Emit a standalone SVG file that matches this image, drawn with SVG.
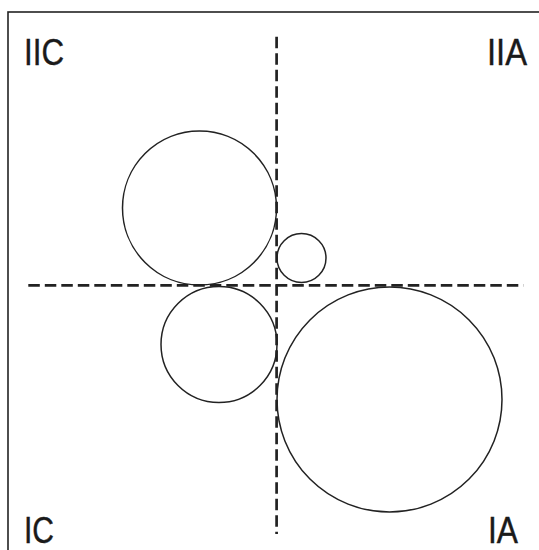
<svg xmlns="http://www.w3.org/2000/svg" width="539" height="550" viewBox="0 0 539 550">
<style>
.frame{fill:none;stroke:#222;stroke-width:1.6}
.c{fill:none;stroke:#222;stroke-width:1.5}
.d{stroke:#222;stroke-width:2.7;stroke-dasharray:11.5 5;fill:none}
.t{font-family:"Liberation Sans",Arial,sans-serif;font-size:36px;fill:#1a1a1a;stroke:#1a1a1a;stroke-width:0.4}
</style>
<rect class="frame" x="8" y="12" width="540" height="550"/>
<g id="connectors">
<line class="d" x1="276.6" y1="36.7" x2="276.6" y2="534"/>
<line class="d" x1="28.3" y1="285.3" x2="523.5" y2="285.3"/>
</g>
<g id="circle-upper-left"><circle class="c" cx="199.5" cy="208" r="77"/></g>
<g id="circle-small"><circle class="c" cx="301.5" cy="258" r="24.5"/></g>
<g id="circle-lower-left"><circle class="c" cx="219" cy="344.5" r="58"/></g>
<g id="circle-big"><circle class="c" cx="389.5" cy="399.5" r="112.5"/></g>
<g id="label-IIC"><text class="t" x="24" y="65" textLength="40" lengthAdjust="spacingAndGlyphs">IIC</text></g>
<g id="label-IIA"><text class="t" x="487" y="65" textLength="40" lengthAdjust="spacingAndGlyphs">IIA</text></g>
<g id="label-IC"><text class="t" x="24" y="543" textLength="30" lengthAdjust="spacingAndGlyphs">IC</text></g>
<g id="label-IA"><text class="t" x="488" y="543" textLength="30" lengthAdjust="spacingAndGlyphs">IA</text></g>
</svg>
